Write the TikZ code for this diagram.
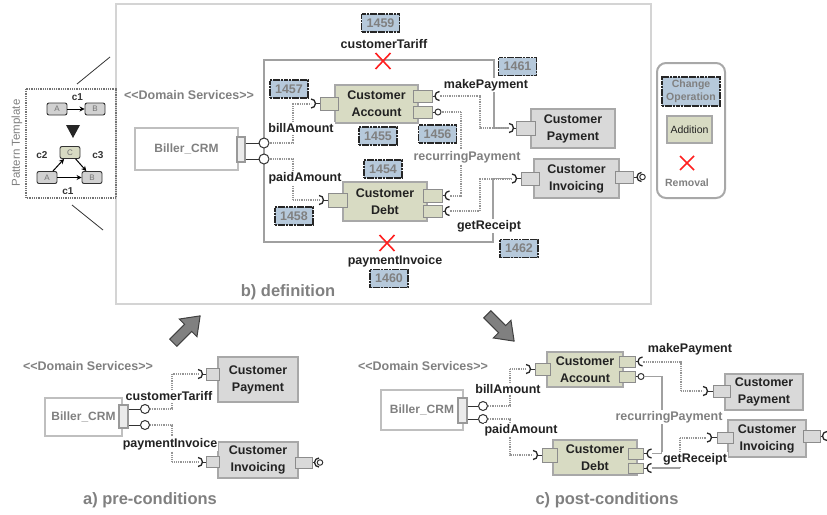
\documentclass[tikz,border=0pt]{standalone}
\usepackage{fontspec}
\setmainfont{Liberation Sans}[Ligatures=TeXOff]
\usetikzlibrary{arrows.meta,calc}
\definecolor{cgreen}{HTML}{D8DBC3}
\definecolor{cgray}{HTML}{D9D9D9}
\definecolor{cborder}{HTML}{A8A8A8}
\definecolor{cblue}{HTML}{B6C9DB}
\definecolor{ctext}{HTML}{222222}
\definecolor{cgtext}{HTML}{808080}
\definecolor{cline}{HTML}{A0A0A0}
\definecolor{cdot}{HTML}{969696}
\definecolor{cred}{HTML}{FF2020}
\definecolor{cframe}{HTML}{D4D4D4}
\tikzset{
  comp/.style={draw=cborder, line width=1.8pt, fill=cgreen, align=center,
    font=\fontsize{12.5}{17}\selectfont\bfseries, text=ctext, inner sep=0pt},
  compg/.style={comp, fill=cgray},
  port/.style={draw=black!45, line width=1pt, fill=cgreen, inner sep=0pt},
  portg/.style={port, fill=cgray},
  biller/.style={draw=black!25, line width=2pt, fill=white, inner sep=0pt,
    font=\fontsize{12}{14}\selectfont\bfseries, text=cgtext},
  bport/.style={draw=black!40, line width=1.2pt, fill=black!8, inner sep=0pt},
  num/.style={draw=black!85, dash pattern=on 2.2pt off 0.5pt, line width=1.4pt,
    fill=cblue, text=cgtext, font=\fontsize{12.5}{14}\selectfont\bfseries,
    minimum width=38pt, minimum height=18pt, inner sep=0pt},
  lbl/.style={font=\fontsize{12.5}{14}\selectfont\bfseries, text=ctext, fill=white, inner sep=1pt},
  glbl/.style={lbl, text=cgtext},
  dsv/.style={font=\fontsize{12.5}{14}\selectfont\bfseries, text=cgtext, inner sep=0pt},
  ttl/.style={font=\fontsize{16.5}{19}\selectfont\bfseries, text=cgtext, inner sep=0pt},
  dotc/.style={cdot, line width=2pt, dash pattern=on 1pt off 0.8pt},
  solc/.style={cline, line width=1.3pt},
  lol/.style={circle, draw=black!80, line width=1pt, fill=white, inner sep=0pt},
  sock/.style={draw=black!85, line width=1.3pt},
  sockline/.style={black!80, line width=1pt},
  xmark/.style={cred, line width=1.6pt},
  pbox/.style={draw=black!80, line width=0.9pt, fill=black!18, rounded corners=2pt,
    minimum width=20pt, minimum height=12pt, inner sep=0pt,
    font=\fontsize{8}{8}\selectfont, text=black!55},
  clbl/.style={font=\fontsize{10}{10}\selectfont\bfseries, text=black!80, inner sep=0pt},
  parr/.style={black, line width=1pt, -{Stealth[length=5pt,width=5pt]}},
  bigarrow/.style={fill=black!50, draw=black!75, line width=1pt},
  sockR/.pic={\draw[sock] (0,-4.5) arc[start angle=-90,end angle=90,radius=4.5];},
  sockL/.pic={\draw[sock] (0,-4.5) arc[start angle=270,end angle=90,radius=4.5];},
}
\begin{document}
\begin{tikzpicture}[x=1pt,y=-1pt]
\useasboundingbox (0,0) rectangle (827,514);

%================ definition frame
\draw[cframe, line width=2pt] (116,4) rectangle (651,304);

%================ pattern template
\draw[black!55, line width=1.6pt, dash pattern=on 1pt off 0.8pt] (26,89) rectangle (116,198);
\node[rotate=90, font=\fontsize{11.5}{11.5}\selectfont, text=cgtext] (pt) at (17,143) {Pattern Template};
\coordinate (ptu1) at (77,84); \coordinate (ptu2) at (110,57);
\coordinate (ptl1) at (72,205); \coordinate (ptl2) at (103,230);
\draw[black!80, line width=0.8pt] (ptu1) -- (ptu2);
\draw[black!80, line width=0.8pt] (ptl1) -- (ptl2);
\node[pbox] (pA1) at (57,109) {A};
\node[pbox] (pB1) at (95,109) {B};
\draw[parr] (pA1) -- (pB1);
\node[clbl] (pc1a) at (77.5,97) {c1};
\fill[black!85] (66,125) -- (80,125) -- (73,138) -- cycle;
\node[pbox, fill=cgreen] (pC) at (70,152.5) {C};
\node[pbox] (pA2) at (47,177.5) {A};
\node[pbox] (pB2) at (92,177.5) {B};
\draw[parr] (pA2) -- (pC);
\draw[parr] (pC) -- (pB2);
\draw[parr] (pA2) -- (pB2);
\node[clbl] (pc2) at (42,155) {c2};
\node[clbl] (pc3) at (98,155) {c3};
\node[clbl] (pc1b) at (68,191) {c1};

%================ legend
\draw[cborder, line width=2pt, rounded corners=9pt] (657,63) rectangle (725,198);
\node[num, minimum width=58pt, minimum height=29pt, align=center,
  font=\fontsize{10.5}{13}\selectfont\bfseries] (lgC) at (691,91.5) {Change\\Operation};
\node[comp, minimum width=45pt, minimum height=27pt,
  font=\fontsize{10.5}{12}\selectfont] (lgA) at (689.5,129.5) {Addition};
\draw[xmark] (680,156) -- (694,170) (694,156) -- (680,170);
\node[font=\fontsize{10.5}{12}\selectfont\bfseries, text=cgtext] (lgR) at (687,183) {Removal};

%================ b) definition
\node[dsv] (dDS) at (189,95) {<<Domain Services>>};
\node[biller, minimum width=103pt, minimum height=42pt] (dB) at (186.5,149) {Biller\_CRM};
\node[bport, minimum width=8pt, minimum height=25pt] (dBp) at (241,149.5) {};

% long solid connectors (customerTariff / paymentInvoice)
\draw[solc] (264,143) -- (264,60) -- (494,60) -- (494,128) -- (509,128);
\draw[solc] (264,143) -- (264,242) -- (493,242) -- (493,178.5) -- (512,178.5);

% lollipops
\node[lol, minimum size=10pt] (dL1) at (264,143) {};
\node[lol, minimum size=10pt] (dL2) at (264,159) {};
\draw[sockline] (dBp.east |- dL1) -- (dL1.west);
\draw[sockline] (dBp.east |- dL2) -- (dL2.west);

% components
\node[comp, minimum width=83pt, minimum height=38pt] (dCA) at (376.5,104) {Customer\\Account};
\node[port, minimum width=18pt, minimum height=13pt] (dCAl) at (329,103.5) {};
\node[port, minimum width=19pt, minimum height=12pt] (dCAr1) at (422.5,96) {};
\node[port, minimum width=19pt, minimum height=12pt] (dCAr2) at (422.5,112) {};

\node[comp, minimum width=84pt, minimum height=39pt] (dCD) at (385,201.5) {Customer\\Debt};
\node[port, minimum width=19pt, minimum height=14pt] (dCDl) at (337.5,200) {};
\node[port, minimum width=19pt, minimum height=13pt] (dCDr1) at (432.5,195.5) {};
\node[port, minimum width=19pt, minimum height=12pt] (dCDr2) at (432.5,211) {};

\node[compg, minimum width=84pt, minimum height=39pt] (dCP) at (573,128.5) {Customer\\Payment};
\node[portg, minimum width=19pt, minimum height=14pt] (dCPl) at (525.5,128) {};

\node[compg, minimum width=85pt, minimum height=39pt] (dCI) at (576.5,178.5) {Customer\\Invoicing};
\node[portg, minimum width=18pt, minimum height=13pt] (dCIl) at (530,178.5) {};
\node[portg, minimum width=18pt, minimum height=12pt] (dCIr) at (624,177) {};

% billAmount
\draw[dotc] (dL1.east) -- (293,143) -- (293,103.5) -- (311,103.5);
\pic (dsk1) at (311,103.5) {sockR};
\draw[sockline] (315.5,103.5) -- (dCAl.west);
% paidAmount
\draw[dotc] (dL2.east) -- (293,159) -- (293,200) -- (319,200);
\pic (dsk2) at (319,200) {sockR};
\draw[sockline] (323.5,200) -- (dCDl.west);
% makePayment
\pic (dsk3) at (439.5,96) {sockL};
\draw[sockline] (dCAr1.east) -- (435,96);
\draw[dotc] (439.5,96) -- (480,96) -- (480,128) -- (509,128);
\pic (dsk4) at (509,128) {sockR};
\draw[sockline] (513.5,128) -- (dCPl.west);
% recurringPayment
\node[lol, minimum size=6pt] (dL3) at (438,112) {};
\draw[sockline] (dCAr2.east) -- (dL3.west);
\draw[dotc] (dL3.east) -- (461,112) -- (461,195.5) -- (449.5,195.5);
\pic (dsk5) at (449.5,195.5) {sockL};
\draw[sockline] (dCDr1.east) -- (445,195.5);
% getReceipt
\draw[dotc] (449.5,211) -- (480,211) -- (480,178.5) -- (512,178.5);
\pic (dsk6) at (449.5,211) {sockL};
\draw[sockline] (dCDr2.east) -- (445,211);
\pic (dsk7) at (512,178.5) {sockR};
\draw[sockline] (516.5,178.5) -- (dCIl.west);
% invoicing right
\draw[sockline] (dCIr.east) -- (637,177);
\pic (dsk8) at (641.5,177) {sockL};
\node[lol, minimum size=5.5pt] (dL4) at (642.5,177) {};

% labels
\node[lbl] (tCT) at (384,44) {customerTariff};
\node[lbl] (tBA) at (301,128) {billAmount};
\node[lbl] (tPA) at (305,178) {paidAmount};
\node[lbl] (tMP) at (486,85) {makePayment};
\node[glbl] (tRP) at (467,157) {recurringPayment};
\node[lbl] (tGR) at (489,226) {getReceipt};
\node[lbl] (tPI) at (395,261) {paymentInvoice};

% removals
\draw[xmark] (375.5,53) -- (390.5,69) (390.5,53) -- (375.5,69);
\draw[xmark] (379.5,235) -- (394.5,251) (394.5,235) -- (379.5,251);

% change numbers
\node[num] (n1459) at (380.5,23) {1459};
\node[num] (n1457) at (289,89) {1457};
\node[num] (n1455) at (378,136) {1455};
\node[num] (n1456) at (437.5,134) {1456};
\node[num] (n1454) at (383,169) {1454};
\node[num] (n1458) at (294,216) {1458};
\node[num] (n1460) at (389,278.5) {1460};
\node[num] (n1461) at (517.5,66.5) {1461};
\node[num] (n1462) at (519,248.5) {1462};

\node[ttl] (tDef) at (288,292) {b) definition};

%================ transition arrows
\begin{scope}[shift={(186,330)}, rotate=45]
  \filldraw[bigarrow] (-18,-5) -- (3,-5) -- (3,-12.5) -- (20,0) -- (3,12.5) -- (3,5) -- (-18,5) -- cycle;
\end{scope}
\begin{scope}[shift={(500,327)}, rotate=-45]
  \filldraw[bigarrow] (-18,-5) -- (3,-5) -- (3,-12.5) -- (20,0) -- (3,12.5) -- (3,5) -- (-18,5) -- cycle;
\end{scope}

%================ a) pre-conditions
\node[dsv] (aDS) at (88,366) {<<Domain Services>>};
\node[biller, minimum width=77pt, minimum height=38pt] (aB) at (83.5,417) {Biller\_CRM};
\node[bport, minimum width=9pt, minimum height=23pt] (aBp) at (123.5,416.5) {};
\node[lol, minimum size=9pt] (aL1) at (145,409) {};
\node[lol, minimum size=9pt] (aL2) at (145,425) {};
\draw[sockline] (aBp.east |- aL1) -- (aL1.west);
\draw[sockline] (aBp.east |- aL2) -- (aL2.west);
\node[compg, minimum width=80pt, minimum height=45pt] (aCP) at (258,379.5) {Customer\\Payment};
\node[portg, minimum width=13pt, minimum height=12pt] (aCPl) at (213,374) {};
\node[compg, minimum width=80pt, minimum height=36pt] (aCI) at (258,460) {Customer\\Invoicing};
\node[portg, minimum width=13pt, minimum height=11pt] (aCIl) at (213,462) {};
\node[portg, minimum width=17pt, minimum height=11pt] (aCIr) at (303.5,462.5) {};
\draw[dotc] (aL1.east) -- (172,409) -- (172,374) -- (198,374);
\pic (ask1) at (198,374) {sockR};
\draw[sockline] (202.5,374) -- (aCPl.west);
\draw[dotc] (aL2.east) -- (172,425) -- (172,462) -- (198,462);
\pic (ask2) at (198,462) {sockR};
\draw[sockline] (202.5,462) -- (aCIl.west);
\draw[sockline] (aCIr.east) -- (315,462.5);
\pic (ask3) at (319,462.5) {sockL};
\node[lol, minimum size=5.5pt] (aL3) at (320,462.5) {};
\node[lbl] (aCT) at (169,396) {customerTariff};
\node[lbl] (aPI) at (170,444) {paymentInvoice};
\node[ttl] (tPre) at (150,500) {a) pre-conditions};

%================ c) post-conditions
\node[dsv] (cDS) at (423,366) {<<Domain Services>>};
\node[biller, minimum width=82pt, minimum height=40pt] (cB) at (422,410) {Biller\_CRM};
\node[bport, minimum width=9pt, minimum height=25pt] (cBp) at (462.5,410.5) {};
\node[lol, minimum size=9pt] (cL1) at (483,406) {};
\node[lol, minimum size=9pt] (cL2) at (483,419) {};
\draw[sockline] (cBp.east |- cL1) -- (cL1.west);
\draw[sockline] (cBp.east |- cL2) -- (cL2.west);

\node[comp, minimum width=76pt, minimum height=35pt] (cCA) at (585,369.5) {Customer\\Account};
\node[port, minimum width=15pt, minimum height=12pt] (cCAl) at (542.5,369) {};
\node[port, minimum width=16pt, minimum height=11pt] (cCAr1) at (627,361.5) {};
\node[port, minimum width=16pt, minimum height=11pt] (cCAr2) at (627,376.5) {};

\node[comp, minimum width=84pt, minimum height=35pt] (cCD) at (595,457.5) {Customer\\Debt};
\node[port, minimum width=15pt, minimum height=14pt] (cCDl) at (549.5,455) {};
\node[port, minimum width=15pt, minimum height=11pt] (cCDr1) at (635.5,453.5) {};
\node[port, minimum width=15pt, minimum height=10pt] (cCDr2) at (635.5,468) {};

\node[compg, minimum width=78pt, minimum height=36pt] (cCP) at (764,392) {Customer\\Payment};
\node[portg, minimum width=17pt, minimum height=12pt] (cCPl) at (721.5,391) {};

\node[compg, minimum width=78pt, minimum height=37pt] (cCI) at (767,438.5) {Customer\\Invoicing};
\node[portg, minimum width=16pt, minimum height=11pt] (cCIl) at (725,437.5) {};
\node[portg, minimum width=17pt, minimum height=12pt] (cCIr) at (811.5,436) {};
\draw[sockline] (cCIr.east) -- (823,436);
\pic (csk9) at (827,436) {sockL};

% billAmount
\draw[dotc] (cL1.east) -- (510,406) -- (510,369) -- (526,369);
\pic (csk1) at (526,369) {sockR};
\draw[sockline] (530.5,369) -- (cCAl.west);
% paidAmount
\draw[dotc] (cL2.east) -- (510,419) -- (510,455) -- (533,455);
\pic (csk2) at (533,455) {sockR};
\draw[sockline] (537.5,455) -- (cCDl.west);
% makePayment
\draw[sockline] (cCAr1.east) -- (638,361.5);
\pic (csk3) at (642.5,361.5) {sockL};
\draw[dotc] (642.5,361.5) -- (681,361.5) -- (681,391) -- (703,391);
\pic (csk4) at (703,391) {sockR};
\draw[sockline] (707.5,391) -- (cCPl.west);
% recurringPayment
\node[lol, minimum size=6pt] (cL3) at (641,376.5) {};
\draw[sockline] (cCAr2.east) -- (cL3.west);
\draw[solc] (cL3.east) -- (662,376.5) -- (662,453.5) -- (651.5,453.5);
\draw[sockline] (cCDr1.east) -- (647,453.5);
\pic (csk5) at (651.5,453.5) {sockL};
% getReceipt
\draw[sockline] (cCDr2.east) -- (647,468);
\pic (csk6) at (651.5,468) {sockL};
\draw[solc] (651.5,468) -- (680,468);
\draw[dotc] (680,468) -- (680,437.5) -- (707,437.5);
\pic (csk7) at (707,437.5) {sockR};
\draw[sockline] (711.5,437.5) -- (cCIl.west);

\node[lbl] (cBA) at (508,389) {billAmount};
\node[lbl] (cPA) at (521,430) {paidAmount};
\node[lbl] (cMP) at (690,349) {makePayment};
\node[glbl] (cRP) at (669,417) {recurringPayment};
\node[lbl] (cGR) at (695,459) {getReceipt};
\node[ttl] (tPost) at (607,500) {c) post-conditions};
\end{tikzpicture}
\end{document}
